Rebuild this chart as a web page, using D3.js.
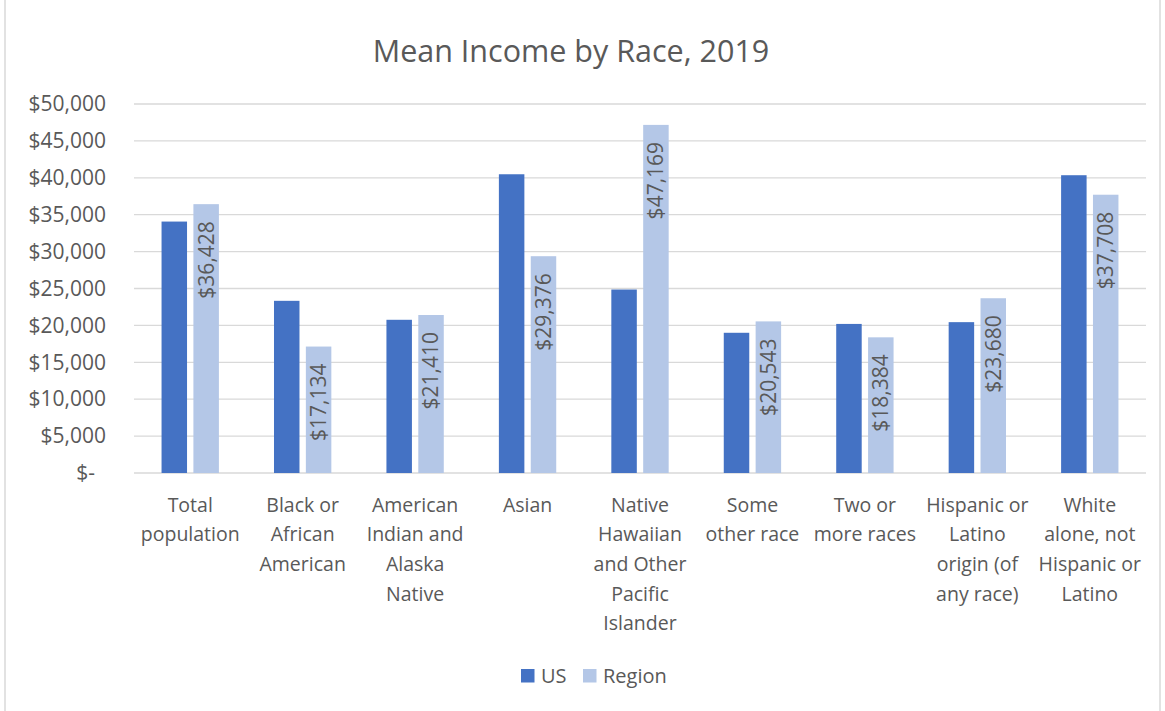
<!DOCTYPE html>
<html>
<head>
<meta charset="utf-8">
<script src="https://cdn.jsdelivr.net/npm/d3@7"></script>
<style>
  body { margin: 0; background: #fff; }
  text { font-family: "Open Sans", sans-serif; fill: #595959; }
</style>
</head>
<body>
<div id="chart"></div>
<script>
var categories = [
  "Total\npopulation",
  "Black or\nAfrican\nAmerican",
  "American\nIndian and\nAlaska\nNative",
  "Asian",
  "Native\nHawaiian\nand Other\nPacific\nIslander",
  "Some\nother race",
  "Two or\nmore races",
  "Hispanic or\nLatino\norigin (of\nany race)",
  "White\nalone, not\nHispanic or\nLatino"
];
var seriesNames = ["US", "Region"];
var usValues = [34070, 23330, 20760, 40480, 24860, 19000, 20200, 20440, 40350];
var regionValues = [36428, 17134, 21410, 29376, 47169, 20543, 18384, 23680, 37708];
var yTicks = [0, 5000, 10000, 15000, 20000, 25000, 30000, 35000, 40000, 45000, 50000];
var colors = ["#4472C4", "#B4C7E7"];

var svgWidth = 1165, svgHeight = 711;
var margin = { top: 104, right: 19, bottom: 238, left: 134 };
var width = svgWidth - margin.left - margin.right;
var height = svgHeight - margin.top - margin.bottom;

var svg = d3.select('#chart')
  .append('svg')
  .attr('width', svgWidth)
  .attr('height', svgHeight);

// chart frame
svg.append('line').attr('x1', 5).attr('x2', 5).attr('y1', 0).attr('y2', svgHeight)
  .attr('stroke', '#D9D9D9').attr('stroke-width', 1.5);
svg.append('line').attr('x1', 1160).attr('x2', 1160).attr('y1', 0).attr('y2', svgHeight)
  .attr('stroke', '#D9D9D9').attr('stroke-width', 1.5);

svg.append('text')
  .attr('x', 571)
  .attr('y', 62)
  .attr('text-anchor', 'middle')
  .attr('font-size', '30.5px')
  .text('Mean Income by Race, 2019');

var g = svg.append('g')
  .attr('transform', 'translate(' + margin.left + ',' + margin.top + ')');

var x0 = d3.scaleBand().domain(categories).range([0, width]);
var x1 = d3.scaleBand().domain(seriesNames)
  .range([x0.bandwidth() * 0.245, x0.bandwidth() * 0.755])
  .paddingInner(0.2);
var y = d3.scaleLinear().domain([0, 50000]).range([height, 0]);

// gridlines
g.selectAll('.grid')
  .data(yTicks)
  .enter()
  .append('line')
  .attr('class', 'grid')
  .attr('x1', 0)
  .attr('x2', width)
  .attr('y1', function (d) { return y(d); })
  .attr('y2', function (d) { return y(d); })
  .attr('stroke', '#D9D9D9')
  .attr('stroke-width', 1.3);

// y axis
var yAxis = g.append('g')
  .attr('class', 'y-axis')
  .call(d3.axisLeft(y).tickValues(yTicks).tickSize(0).tickPadding(28)
    .tickFormat(function (d) { return d === 0 ? '$-' : '$' + d3.format(',')(d); }));
yAxis.select('.domain').remove();
yAxis.selectAll('text')
  .attr('font-size', '21px')
  .attr('fill', '#595959')
  .attr('font-family', '"Open Sans", sans-serif')
  .attr('dx', function (d) { return d === 0 ? -11 : 0; });

// x axis
var xAxis = g.append('g')
  .attr('class', 'x-axis')
  .attr('transform', 'translate(0,' + height + ')')
  .call(d3.axisBottom(x0).tickSize(0).tickFormat(''));
xAxis.select('.domain').remove();
xAxis.selectAll('.tick').append('text')
  .attr('text-anchor', 'middle')
  .attr('font-size', '19.5px')
  .attr('y', 38.7)
  .each(function (d) {
    var t = d3.select(this);
    d.split('\n').forEach(function (line, i) {
      t.append('tspan').attr('x', 0).attr('y', 38.7 + i * 29.6).text(line);
    });
  });

// bars
var rows = categories.map(function (c, i) {
  return { cat: c, values: [usValues[i], regionValues[i]] };
});
var groups = g.selectAll('.group')
  .data(rows)
  .enter()
  .append('g')
  .attr('class', 'group')
  .attr('transform', function (d) { return 'translate(' + x0(d.cat) + ',0)'; });

groups.selectAll('rect')
  .data(function (d) {
    return d.values.map(function (v, i) { return { name: seriesNames[i], value: v, idx: i }; });
  })
  .enter()
  .append('rect')
  .attr('x', function (d) { return x1(d.name); })
  .attr('y', function (d) { return y(d.value); })
  .attr('width', x1.bandwidth())
  .attr('height', function (d) { return height - y(d.value); })
  .attr('fill', function (d) { return colors[d.idx]; });

// region data labels
groups.append('text')
  .attr('transform', function (d) {
    var cx = x1('Region') + x1.bandwidth() / 2;
    return 'translate(' + cx + ',' + (y(d.values[1]) + 17) + ') rotate(-90)';
  })
  .attr('text-anchor', 'end')
  .attr('dy', '0.35em')
  .attr('font-size', '21px')
  .text(function (d) { return '$' + d3.format(',')(d.values[1]); });

// legend
var legendX = [521, 583];
var legend = svg.append('g').attr('class', 'legend');
seriesNames.forEach(function (name, i) {
  legend.append('rect')
    .attr('x', legendX[i])
    .attr('y', 669)
    .attr('width', 13.5)
    .attr('height', 13.5)
    .attr('fill', colors[i]);
  legend.append('text')
    .attr('x', legendX[i] + 20)
    .attr('y', 683)
    .attr('font-size', '20px')
    .text(name);
});
</script>
</body>
</html>
